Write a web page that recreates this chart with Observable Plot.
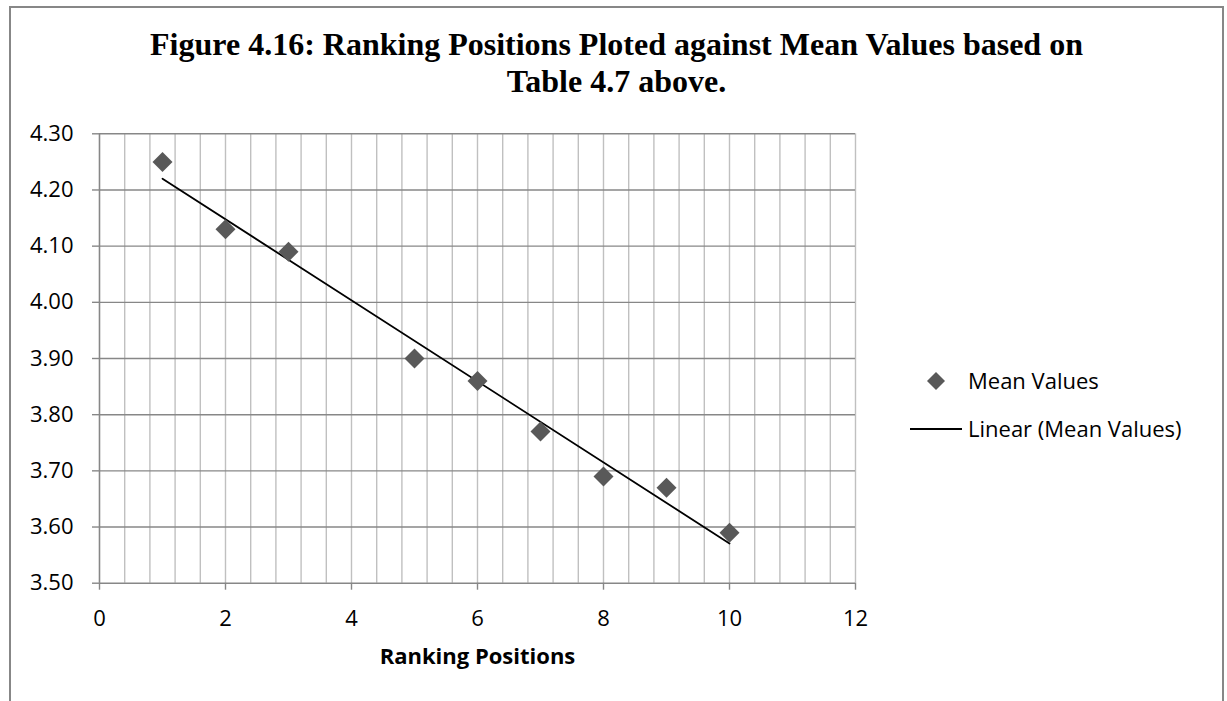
<!DOCTYPE html>
<html>
<head>
<meta charset="utf-8">
<script src="https://cdn.jsdelivr.net/npm/d3@7"></script>
<script src="https://cdn.jsdelivr.net/npm/@observablehq/plot@0.6"></script>
<style>
  html, body { margin: 0; padding: 0; background: #fff; }
  #wrap { position: relative; width: 1227px; height: 701px; overflow: hidden; background: #fff; }
  #border { position: absolute; left: 9px; top: 6px; width: 1211px; height: 720px;
            border-left: 2px solid #878787; border-top: 2px solid #878787; border-right: 2px solid #878787; }
  #title { position: absolute; left: 0; top: 26px; width: 1233px; text-align: center;
           font-family: "Liberation Serif", "Times New Roman", serif; font-weight: bold;
           font-size: 32px; line-height: 37px; color: #000; }
  #chart { position: absolute; left: 0; top: 110px; }
  #legend { position: absolute; left: 900px; top: 360px; font-family: "Open Sans", sans-serif;
            font-size: 22px; color: #000; }
  .lg { position: absolute; white-space: nowrap; }
</style>
</head>
<body>
<div id="wrap">
  <div id="border"></div>
  <div id="title">Figure 4.16: Ranking Positions Ploted against Mean Values based on<br>Table 4.7 above.</div>
  <div id="chart"></div>
  <div id="legend"></div>
</div>
<script>
// ---- data ----
const rankingPositions = [1, 2, 3, 5, 6, 7, 8, 9, 10];
const meanValues = [4.25, 4.13, 4.09, 3.90, 3.86, 3.77, 3.69, 3.67, 3.59];
const xMajorTicks = [0, 2, 4, 6, 8, 10, 12];
const xMinorGrid = [0, 0.4, 0.8, 1.2, 1.6, 2, 2.4, 2.8, 3.2, 3.6, 4, 4.4, 4.8, 5.2, 5.6, 6, 6.4, 6.8, 7.2, 7.6, 8, 8.4, 8.8, 9.2, 9.6, 10, 10.4, 10.8, 11.2, 11.6, 12];
const yTicks = [3.5, 3.6, 3.7, 3.8, 3.9, 4.0, 4.1, 4.2, 4.3];
const seriesName = "Mean Values";
const trendName = "Linear (Mean Values)";
const xTitle = "Ranking Positions";

const data = rankingPositions.map((r, i) => ({rank: r, mean: meanValues[i]}));

const gridDark = "#878787";
const gridLight = "#c0c0c0";
const markerColor = "#595959";
const font = "'Open Sans', sans-serif";

const chart = Plot.plot({
  width: 1227,
  height: 591,
  marginLeft: 99,
  marginRight: 372,
  marginTop: 23.3,
  marginBottom: 118.3,
  style: {fontFamily: font, fontSize: "22px", color: "#000", background: "transparent"},
  x: {domain: [0, 12]},
  y: {domain: [3.5, 4.3]},
  marks: [
    Plot.ruleX(xMinorGrid, {stroke: gridLight, strokeWidth: 1.4}),
    Plot.ruleY(yTicks, {stroke: gridDark, strokeWidth: 1.4}),
    Plot.ruleX([0], {stroke: gridDark, strokeWidth: 1.4}),
    Plot.axisY({ticks: yTicks, tickFormat: d => d.toFixed(2), tickSize: 7, tickPadding: 19,
                stroke: gridDark, strokeWidth: 1.4, label: null, fontSize: 22}),
    Plot.axisX({ticks: xMajorTicks, tickFormat: d => String(d), tickSize: 7, tickPadding: 20,
                stroke: gridDark, strokeWidth: 1.4, label: null, fontSize: 22}),
    Plot.text([xTitle], {frameAnchor: "bottom", lineAnchor: "middle", dy: 74,
                         fontWeight: "bold", fontSize: 22, fill: "#000"}),
    Plot.linearRegressionY(data, {x: "rank", y: "mean", stroke: "#000", strokeWidth: 1.8, ci: 0}),
    Plot.dot(data, {x: "rank", y: "mean", symbol: "diamond2", r: 9, fill: markerColor, stroke: "none"})
  ]
});
document.getElementById("chart").appendChild(chart);

// legend
const legend = document.getElementById("legend");
legend.innerHTML = `
  <svg width="80" height="90" style="position:absolute;left:0;top:0;overflow:visible">
    <path d="M36,12 L45,21 L36,30 L27,21 Z" fill="${markerColor}"></path>
    <line x1="10" x2="62" y1="69" y2="69" stroke="#000" stroke-width="1.8"></line>
  </svg>
  <div class="lg" style="left:68px;top:5px;line-height:30px">${seriesName}</div>
  <div class="lg" style="left:68px;top:53px;line-height:30px">${trendName}</div>`;
</script>
</body>
</html>
